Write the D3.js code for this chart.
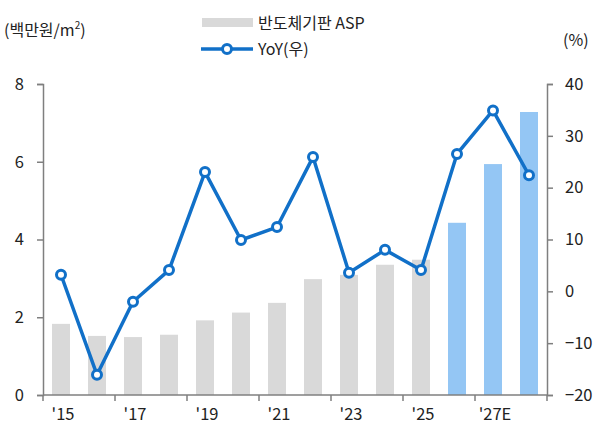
<!DOCTYPE html>
<html>
<head>
<meta charset="utf-8">
<script src="https://cdn.jsdelivr.net/npm/d3@7"></script>
<style>
  body { margin: 0; background: #fff; }
  text { font-family: "Noto Sans CJK KR", "Noto Sans", sans-serif; fill: #222; }
</style>
</head>
<body>
<svg id="chart" width="595" height="424"></svg>
<script>
// values
var years = ["2015","2016","2017","2018","2019","2020","2021","2022","2023","2024","2025","2026","2027","2028"];
var xLabels = { "2015": "'15", "2017": "'17", "2019": "'19", "2021": "'21", "2023": "'23", "2025": "'25", "2027": "'27E" };
var asp = [1.83, 1.52, 1.49, 1.55, 1.92, 2.12, 2.37, 2.98, 3.09, 3.35, 3.48, 4.43, 5.94, 7.28];
var yoy = [3.2, -16.1, -2.0, 4.1, 23.0, 9.9, 12.4, 25.9, 3.6, 8.0, 4.1, 26.5, 34.9, 22.4];
var forecast = ["2026","2027","2028"];
var leftTicks = [0, 2, 4, 6, 8];
var rightTicks = [-20, -10, 0, 10, 20, 30, 40];

var svg = d3.select("#chart");
var plotLeft = 43, plotRight = 547, plotTop = 84, plotBottom = 395;
var lineColor = "#1170c8";
var font = "'Noto Sans CJK KR', 'Noto Sans', sans-serif";

var x = d3.scaleBand().domain(years).range([plotLeft, plotRight]).paddingInner(0.5).paddingOuter(0.25);
var y = d3.scaleLinear().domain([0, 8]).range([plotBottom, plotTop]);
var y2 = d3.scaleLinear().domain([-20, 40]).range([plotBottom, plotTop]);

// bars
svg.selectAll("rect.bar")
  .data(years)
  .enter()
  .append("rect")
  .attr("class", "bar")
  .attr("x", function (d) { return x(d); })
  .attr("width", x.bandwidth())
  .attr("y", function (d, i) { return y(asp[i]); })
  .attr("height", function (d, i) { return plotBottom - y(asp[i]); })
  .attr("fill", function (d) { return forecast.indexOf(d) >= 0 ? "#94c6f4" : "#d9d9d9"; });

// left axis
var gl = svg.append("g").attr("transform", "translate(" + plotLeft + ",0)")
  .call(d3.axisLeft(y).tickValues(leftTicks).tickSize(6).tickPadding(16));
// right axis
var gr = svg.append("g").attr("transform", "translate(" + plotRight + ",0)")
  .call(d3.axisRight(y2).tickValues(rightTicks).tickSize(6).tickPadding(12));

// x axis: ticks every two bands on the boundaries
var step = x.step();
var boundaries = d3.range(0, years.length + 1, 2).map(function (i) { return plotLeft + i * step; });
svg.append("line").attr("x1", plotLeft).attr("x2", plotRight).attr("y1", plotBottom).attr("y2", plotBottom)
  .attr("stroke", "#7f7f7f").attr("stroke-width", 1.5);
svg.selectAll("line.xtick").data(boundaries).enter().append("line")
  .attr("class", "xtick")
  .attr("x1", function (d) { return d; }).attr("x2", function (d) { return d; })
  .attr("y1", plotBottom).attr("y2", plotBottom + 6)
  .attr("stroke", "#7f7f7f").attr("stroke-width", 1.5);
svg.selectAll("text.xlab").data(years.filter(function (d) { return xLabels[d]; })).enter().append("text")
  .attr("class", "xlab")
  .attr("x", function (d) { return x(d) + x.bandwidth() / 2 + 2; })
  .attr("y", 420)
  .attr("text-anchor", "middle")
  .attr("font-size", 16.5)
  .text(function (d) { return xLabels[d]; });

[gl, gr].forEach(function (g) {
  g.select(".domain").attr("stroke", "#7f7f7f").attr("stroke-width", 1.5);
  g.selectAll(".tick line").attr("stroke", "#7f7f7f").attr("stroke-width", 1.5);
  g.selectAll(".tick text").attr("font-size", 16.5).attr("fill", "#222").style("font-family", font);
});
gl.selectAll(".tick text").attr("text-anchor", "middle").attr("dx", "-0.1em");

// yoy line
var line = d3.line()
  .x(function (d, i) { return x(years[i]) + x.bandwidth() / 2; })
  .y(function (d) { return y2(d); });
svg.append("path").datum(yoy)
  .attr("d", line)
  .attr("fill", "none")
  .attr("stroke", lineColor)
  .attr("stroke-width", 3.5)
  .attr("stroke-linejoin", "round");
svg.selectAll("circle.marker").data(yoy).enter().append("circle")
  .attr("class", "marker")
  .attr("cx", function (d, i) { return x(years[i]) + x.bandwidth() / 2; })
  .attr("cy", function (d) { return y2(d); })
  .attr("r", 4.5)
  .attr("fill", "#fff")
  .attr("stroke", lineColor)
  .attr("stroke-width", 3);

// titles
svg.append("text").attr("x", 4).attr("y", 36).attr("font-size", 16)
  .html("(백만원/m<tspan baseline-shift='super' font-size='10'>2</tspan>)");
svg.append("text").attr("x", 563).attr("y", 46).attr("font-size", 16).text("(%)");

// legend
svg.append("rect").attr("x", 202).attr("y", 18).attr("width", 51).attr("height", 9).attr("fill", "#d9d9d9");
svg.append("text").attr("x", 258).attr("y", 29).attr("font-size", 16).text("반도체기판 ASP");
svg.append("line").attr("x1", 201).attr("x2", 253).attr("y1", 49).attr("y2", 49)
  .attr("stroke", lineColor).attr("stroke-width", 3.5);
svg.append("circle").attr("cx", 227).attr("cy", 49).attr("r", 4.5)
  .attr("fill", "#fff").attr("stroke", lineColor).attr("stroke-width", 3);
svg.append("text").attr("x", 258).attr("y", 55).attr("font-size", 16).text("YoY(우)");
</script>
</body>
</html>
